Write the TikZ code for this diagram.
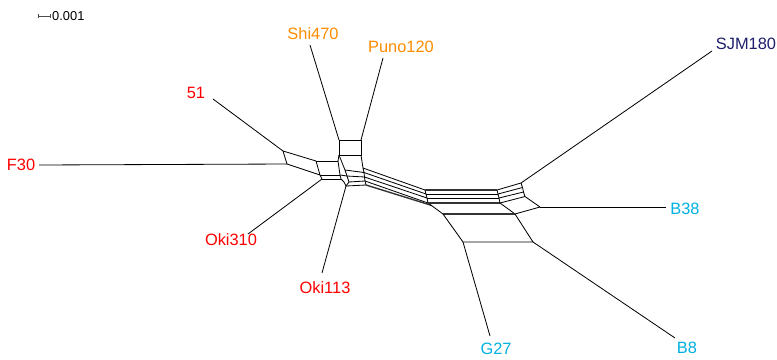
\documentclass[tikz,border=0pt]{standalone}
\usepackage{fontspec}
\setmainfont{Liberation Sans}
\definecolor{cred}{RGB}{255,0,0}
\definecolor{corange}{RGB}{255,140,0}
\definecolor{cnavy}{RGB}{30,30,110}
\definecolor{ccyan}{RGB}{0,176,224}
\begin{document}
\begin{tikzpicture}[x=0.03cm,y=-0.03cm,
  edge/.style={line width=0.7pt,black},
  dbl/.style={line width=1.2pt,black!80},
  lab/.style={inner sep=0pt,font=\fontsize{14}{16}\selectfont}]
\useasboundingbox (0,0) rectangle (777,359);
% ---------- coordinates ----------
\coordinate (L1) at (283,151); \coordinate (L2) at (316,161);
\coordinate (L3) at (320,175); \coordinate (L4) at (287,164);
\coordinate (W) at (322,179);
\coordinate (A1) at (339,140); \coordinate (A2) at (361,140);
\coordinate (A3) at (361,155); \coordinate (A4) at (339,155);
\coordinate (M1) at (338,161); \coordinate (M2) at (340,175);
\coordinate (M3) at (341,179);
\coordinate (E1) at (345,170); \coordinate (E2) at (347,176);
\coordinate (D1) at (344,182); \coordinate (D) at (346,186);
\coordinate (D2) at (349,182);
\coordinate (P1) at (363,168); \coordinate (P2) at (364,172.5);
\coordinate (P3) at (364.5,177); \coordinate (P4) at (365,181);
\coordinate (P5) at (366,185);
\coordinate (Q1) at (425,190); \coordinate (Q2) at (426,194);
\coordinate (Q3) at (427,198); \coordinate (Q4) at (428,203);
\coordinate (Q5) at (431,205.2);
\coordinate (R1) at (497,190); \coordinate (R2) at (498,194);
\coordinate (R3) at (499,198); \coordinate (R4) at (500,203);
\coordinate (U1) at (521,183); \coordinate (U2) at (522.5,187.5);
\coordinate (U3) at (523.5,192); \coordinate (U4) at (525,196.5);
\coordinate (V) at (540,207);
\coordinate (S1) at (443,214); \coordinate (S2) at (515,214);
\coordinate (T1) at (463,242); \coordinate (T2) at (533,242);
% leaf ends
\coordinate (e51) at (213,99); \coordinate (eF30) at (39,165);
\coordinate (eShi) at (310,45); \coordinate (ePuno) at (383,58);
\coordinate (eSJM) at (712,51); \coordinate (eB38) at (666,207);
\coordinate (eOki310) at (248,234); \coordinate (eOki113) at (322,273);
\coordinate (eG27) at (490,336); \coordinate (eB8) at (675,338);
% ---------- labels ----------
\node[lab,text=corange] (nShi) at (313,34) {Shi470};
\node[lab,text=corange] (nPuno) at (401,47) {Puno120};
\node[lab,text=cnavy] (nSJM) at (746,44) {SJM180};
\node[lab,text=cred] (n51) at (196,93) {51};
\node[lab,text=cred] (nF30) at (21,165) {F30};
\node[lab,text=ccyan] (nB38) at (685,209) {B38};
\node[lab,text=cred] (nOki310) at (231,240) {Oki310};
\node[lab,text=cred] (nOki113) at (325,288) {Oki113};
\node[lab,text=ccyan] (nG27) at (496,349) {G27};
\node[lab,text=ccyan] (nB8) at (687,348) {B8};
% scale bar
\coordinate (sb1) at (38,16); \coordinate (sb2) at (50,16);
\draw[line width=0.5pt,black!70] (sb1) -- (sb2);
\draw[line width=0.5pt,black!70] ([yshift=-2]sb1) -- ([yshift=2]sb1);
\draw[line width=0.5pt,black!70] ([yshift=-2]sb2) -- ([yshift=2]sb2);
\node[inner sep=0pt,anchor=west,font=\fontsize{11}{13}\selectfont] (nsb) at (52,16) {0.001};
% ---------- pendant edges ----------
\draw[edge] (e51) -- (L1);
\draw[edge] (eF30) -- (L4);
\draw[edge] (eShi) -- (A1);
\draw[edge] (ePuno) -- (A2);
\draw[edge] (eSJM) -- (U1);
\draw[edge] (eB38) -- (V);
\draw[edge] (eOki310) -- (W);
\draw[edge] (eOki113) -- (D);
\draw[edge] (eG27) -- (T1);
\draw[edge] (eB8) -- (T2);
% ---------- left box ----------
\draw[edge] (L1) -- (L2) -- (L3) -- (L4) -- cycle;
\draw[edge] (L3) -- (W);
\draw[edge] (L2) -- (M1);
\draw[edge] (L3) -- (M2);
\draw[edge] (W) -- (M3);
% ---------- central knot ----------
\draw[edge] (A1) -- (A2) -- (A3) -- (A4) -- cycle;
\draw[edge] (A4) -- (M1) -- (M2) -- (M3) -- (D1) -- (D) -- (D2);
\draw[edge] (A4) -- (E1) -- (E2) -- (D2);
\draw[edge] (M2) -- (E2);
\draw[edge] (E1) -- (P2);
\draw[edge] (E2) -- (P3);
\draw[edge] (D2) -- (P4);
\draw[edge] (D) -- (P5);
\draw[edge] (A3) -- (P1) -- (P2) -- (P3) -- (P4) -- (P5);
% ---------- band ----------
\draw[edge] (P1) -- (Q1); \draw[edge] (P2) -- (Q2);
\draw[edge] (P3) -- (Q3); \draw[edge] (P4) -- (Q4);
\draw[dbl] (P5) -- (Q5);
\draw[edge] (Q1) -- (Q2) -- (Q3) -- (Q4) -- (S1);
\draw[dbl] (Q1) -- (R1);
\draw[edge] (Q2) -- (R2);
\draw[edge] (Q3) -- (R3);
\draw[dbl] (Q4) -- (R4);
\draw[edge] (R1) -- (R2) -- (R3) -- (R4);
\draw[edge] (R1) -- (U1); \draw[edge] (R2) -- (U2);
\draw[edge] (R3) -- (U3); \draw[edge] (R4) -- (U4);
\draw[edge] (U1) -- (U2) -- (U3) -- (U4) -- (V);
\draw[edge] (R4) -- (S2) -- (V);
\draw[dbl] (S1) -- (S2);
\draw[edge] (S1) -- (T1) -- (T2) -- (S2);
\end{tikzpicture}
\end{document}
